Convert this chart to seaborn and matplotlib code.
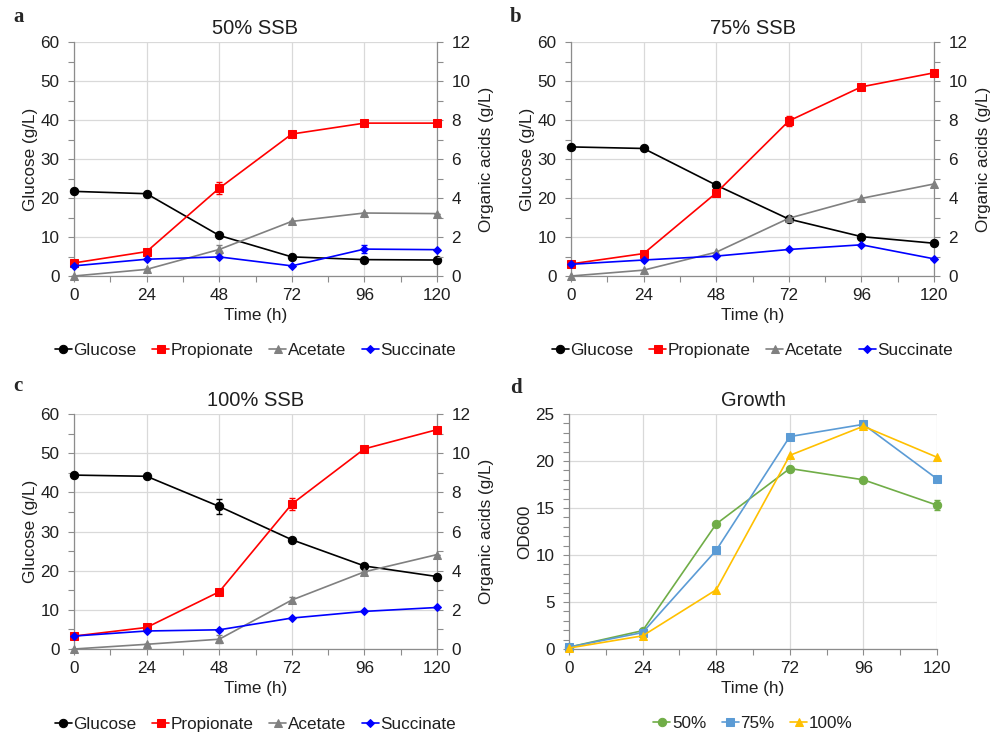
import numpy as np
import pandas as pd
import matplotlib
matplotlib.use("Agg")
import matplotlib.pyplot as plt
from matplotlib.ticker import MultipleLocator
import seaborn as sns

sns.set_style("white")
plt.rcParams['font.family'] = ['Liberation Sans', 'DejaVu Sans']

time = [0, 24, 48, 72, 96, 120]

# Panel a: 50% SSB
glc_a = [21.7, 21.1, 10.4, 4.9, 4.2, 4.1]
pro_a = [0.67, 1.25, 4.50, 7.28, 7.84, 7.84]
ace_a = [0.0, 0.34, 1.36, 2.80, 3.23, 3.20]
suc_a = [0.52, 0.86, 0.98, 0.52, 1.38, 1.35]
glc_a_err = [0, 0, 0, 0, 0, 0]
pro_a_err = [0, 0, 0.3, 0, 0, 0]
ace_a_err = [0, 0, 0.25, 0, 0, 0]
suc_a_err = [0, 0, 0, 0, 0.2, 0]

# Panel b: 75% SSB
glc_b = [33.1, 32.7, 23.3, 14.6, 10.1, 8.4]
pro_b = [0.62, 1.15, 4.26, 7.95, 9.70, 10.42]
ace_b = [0.0, 0.30, 1.22, 2.96, 3.98, 4.72]
suc_b = [0.60, 0.82, 1.02, 1.36, 1.60, 0.88]
glc_b_err = [0, 0, 0, 0, 0, 0]
pro_b_err = [0, 0, 0, 0.25, 0, 0]
ace_b_err = [0, 0, 0, 0, 0, 0]
suc_b_err = [0, 0, 0, 0, 0, 0]

# Panel c: 100% SSB
glc_c = [44.4, 44.1, 36.4, 27.9, 21.2, 18.5]
pro_c = [0.66, 1.10, 2.92, 7.40, 10.22, 11.20]
ace_c = [0.0, 0.24, 0.50, 2.50, 3.94, 4.82]
suc_c = [0.66, 0.92, 0.98, 1.58, 1.92, 2.12]
glc_c_err = [0, 0, 2.0, 0, 0, 0]
pro_c_err = [0, 0, 0, 0.3, 0, 0]
ace_c_err = [0, 0, 0.2, 0.15, 0, 0]
suc_c_err = [0, 0, 0, 0, 0, 0]

# Panel d: Growth (OD600)
od_50 = [0.2, 1.95, 13.3, 19.2, 18.0, 15.3]
od_75 = [0.2, 1.75, 10.5, 22.6, 23.9, 18.1]
od_100 = [0.1, 1.4, 6.3, 20.6, 23.7, 20.4]
od_50_err = [0, 0, 0, 0, 0, 0.5]

titles = ["50% SSB", "75% SSB", "100% SSB", "Growth"]
panel_letters = ["a", "b", "c", "d"]
acid_names = ["Glucose", "Propionate", "Acetate", "Succinate"]
growth_names = ["50%", "75%", "100%"]

W, H = 1000, 733
fig = plt.figure(figsize=(10, 7.33), dpi=100)

def box(l, r, t, b):
    return [l / W, 1 - b / H, (r - l) / W, (b - t) / H]

SP = '#8c8c8c'
GRID = '#d9d9d9'
TXT = '#1f1f1f'
FS = 12.3
TFS = 14.5

def style_axis(ax):
    ax.set_xlim(0, 120)
    ax.xaxis.set_major_locator(MultipleLocator(24))
    ax.xaxis.set_minor_locator(MultipleLocator(12))
    ax.grid(True, which='major', color=GRID, linewidth=0.9)
    ax.tick_params(which='both', direction='out', color=SP, labelcolor=TXT,
                   labelsize=FS, length=4, width=0.8)
    ax.tick_params(axis='x', which='both', bottom=True, pad=4.5)
    ax.tick_params(axis='y', which='both', left=True, pad=6.5)
    for s in ['left', 'right', 'bottom']:
        ax.spines[s].set_color(SP)
        ax.spines[s].set_linewidth(0.9)
    ax.spines['top'].set_visible(False)

def line(ax, y, color, marker, ms, label, err=None):
    sns.lineplot(x=time, y=y, ax=ax, color=color, marker=marker, markersize=ms,
                 markeredgecolor=color, markerfacecolor=color, linewidth=1.2,
                 label=label, clip_on=False, legend=False, zorder=3)
    if err is not None and any(e > 0 for e in err):
        ax.errorbar(time, y, yerr=err, fmt='none', ecolor=color, elinewidth=1.0,
                    capsize=2, capthick=1.0, clip_on=False, zorder=3)

LEG = dict(frameon=False, fontsize=FS, handlelength=1.0, handletextpad=0.1,
           columnspacing=0.9, labelcolor=TXT)

def acid_panel(rect, glc, pro, ace, suc, errs, title, letter, letter_pos):
    ax = fig.add_axes(rect)
    style_axis(ax)
    ax.set_ylim(0, 60)
    ax.yaxis.set_major_locator(MultipleLocator(10))
    ax.yaxis.set_minor_locator(MultipleLocator(5))
    ax2 = ax.twinx()
    ax2.set_ylim(0, 12)
    ax2.yaxis.set_major_locator(MultipleLocator(2))
    ax2.yaxis.set_minor_locator(MultipleLocator(1))
    ax2.tick_params(which='both', direction='out', color=SP, labelcolor=TXT,
                    labelsize=FS, length=4, width=0.8, pad=6.5)
    for s in ax2.spines.values():
        s.set_visible(False)
    line(ax, glc, 'black', 'o', 6, acid_names[0], errs[0])
    line(ax2, pro, '#ff0000', 's', 6, acid_names[1], errs[1])
    line(ax2, ace, '#808080', '^', 6, acid_names[2], errs[2])
    line(ax2, suc, '#0000ff', 'D', 4, acid_names[3], errs[3])
    ax.set_xlabel("Time (h)", fontsize=FS, color=TXT, labelpad=4)
    ax.set_ylabel("Glucose (g/L)", fontsize=FS, color=TXT, labelpad=2)
    ax2.set_ylabel("Organic acids (g/L)", fontsize=FS, color=TXT, labelpad=6)
    ax.set_title(title, fontsize=TFS, color=TXT, pad=6)
    h1, l1 = ax.get_legend_handles_labels()
    h2, l2 = ax2.get_legend_handles_labels()
    ax2.legend(h1 + h2, l1 + l2, loc='center', bbox_to_anchor=(0.5, -0.32),
               ncol=4, **LEG)
    fig.text(letter_pos[0] / W, 1 - letter_pos[1] / H, letter, fontsize=15,
             fontweight='bold', family='Liberation Serif', ha='left', va='center')
    return ax

acid_panel(box(74, 437, 42, 276), glc_a, pro_a, ace_a, suc_a,
           [glc_a_err, pro_a_err, ace_a_err, suc_a_err], titles[0], panel_letters[0], (13, 17))
acid_panel(box(571, 934, 42, 276), glc_b, pro_b, ace_b, suc_b,
           [glc_b_err, pro_b_err, ace_b_err, suc_b_err], titles[1], panel_letters[1], (510, 17))
acid_panel(box(74, 437, 414, 649), glc_c, pro_c, ace_c, suc_c,
           [glc_c_err, pro_c_err, ace_c_err, suc_c_err], titles[2], panel_letters[2], (13, 386))

# Panel d
axd = fig.add_axes(box(569, 937, 414, 649))
style_axis(axd)
axd.set_ylim(0, 25)
axd.yaxis.set_major_locator(MultipleLocator(5))
axd.yaxis.set_minor_locator(MultipleLocator(1))
axd.spines['right'].set_visible(False)
line(axd, od_50, '#70ad47', 'o', 6, growth_names[0], od_50_err)
line(axd, od_75, '#5b9bd5', 's', 6, growth_names[1])
line(axd, od_100, '#ffc000', '^', 6, growth_names[2])
axd.set_xlabel("Time (h)", fontsize=FS, color=TXT, labelpad=4)
axd.set_ylabel("OD600", fontsize=FS, color=TXT, labelpad=2)
axd.set_title(titles[3], fontsize=TFS, color=TXT, pad=6)
axd.legend(loc='center', bbox_to_anchor=(0.5, -0.315), ncol=3, **LEG)
fig.text(510 / W, 1 - 388 / H, panel_letters[3], fontsize=15, fontweight='bold',
         family='Liberation Serif', ha='left', va='center')

fig.savefig("out.png", dpi=100)
